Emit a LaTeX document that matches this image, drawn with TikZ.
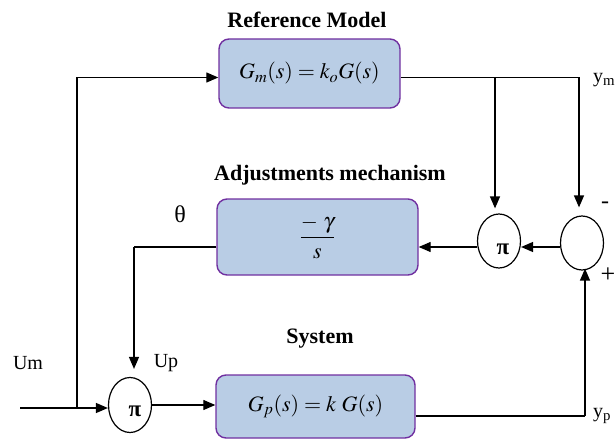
\documentclass[tikz,border=0pt]{standalone}
\usepackage{amsmath}
\usepackage{mathptmx}
\usepackage{fontspec}
\setmainfont{Liberation Serif}
\usetikzlibrary{arrows.meta,shapes.geometric}
\definecolor{boxfill}{HTML}{B9CDE5}
\definecolor{boxedge}{HTML}{7030A0}
\tikzset{
  blk/.style={draw=boxedge, fill=boxfill, rounded corners=10pt, line width=1.4pt, inner sep=0pt},
  circ/.style={draw, ellipse, line width=1.2pt, inner sep=0pt},
  wire/.style={line width=1.3pt},
  arr/.style={wire, -{Triangle[length=12pt,width=10pt]}},
  title/.style={font=\fontsize{22}{26}\selectfont\bfseries},
  lbl/.style={font=\fontsize{20}{24}\selectfont},
  pilbl/.style={font=\fontsize{23}{26}\selectfont\bfseries},
}
\begin{document}
\begin{tikzpicture}[x=1pt,y=-1pt]
\useasboundingbox (0,0) rectangle (615,441);
% blocks
\node[blk, minimum width=181pt, minimum height=69pt] (m) at (309.5,73.5)
  {\fontsize{22}{26}\selectfont $G_m(s)=k_oG(s)$};
\node[blk, minimum width=201pt, minimum height=76pt] (adj) at (317.5,237)
  {\fontsize{22}{26}\selectfont $\displaystyle\frac{-\ \gamma}{s}$};
\node[blk, minimum width=199pt, minimum height=63pt] (p) at (315.5,406.5)
  {\fontsize{22}{26}\selectfont $G_p(s)=k\ G(s)$};
% circles
\node[circ, minimum width=43pt, minimum height=54pt] (x1) at (499,241) {};
\node[circ, minimum width=43pt, minimum height=54pt] (sum) at (582,243) {};
\node[circ, minimum width=43pt, minimum height=55pt] (x0) at (130,405) {};
\node[pilbl] (pi1) at (503,249) {π};
\node[pilbl] (pi0) at (135,411) {π};
% titles and labels
\node[title] (t1) at (307,20) {Reference Model};
\node[title] (t2) at (330,175) {Adjustments mechanism};
\node[title] (t3) at (320,339) {System};
\node[font=\fontsize{24}{28}\selectfont] (th) at (180,214) {θ};
\node[lbl] (um) at (28,363) {Um};
\node[lbl] (up) at (166,363) {Up};
\node[lbl, anchor=west, inner sep=0pt] (ym) at (593,80) {y\textsubscript{m}};
\node[lbl, anchor=west, inner sep=0pt] (yp) at (593,416) {y\textsubscript{p}};
\node[font=\fontsize{24}{28}\selectfont] (minus) at (605,205) {-};
\node[font=\fontsize{26}{30}\selectfont] (plus) at (608,275) {+};
% coordinates
\coordinate (in) at (20,408);
\coordinate (b1) at (77,408);
\coordinate (cm) at (579,77.5);
\coordinate (b2) at (495,77.5);
\coordinate (ct) at (134,247);
\coordinate (cp) at (585,416);
% connectors
\draw[wire] (in) -- (b1);
\draw[arr] (b1) -- (x0.west |- b1);
\draw[arr] (b1) |- ([yshift=-4pt]m.west);
\draw[wire] ([yshift=-4pt]m.east) -- (cm);
\draw[arr, shorten >=8pt] (cm) -- (cm |- sum.north);
\draw[arr, shorten >=5pt] (b2) -- (b2 |- x1.north);
\draw[arr] ([yshift=-4pt]sum.west) -- ([yshift=-6pt]x1.east);
\draw[arr] ([yshift=-6pt]x1.west) -- ([yshift=-10pt]adj.east);
\draw[wire] ([yshift=-10pt]adj.west) -- (ct);
\draw[arr, shorten >=8pt] (ct) -- (ct |- x0.north);
\draw[arr] (x0.east) -- (x0.east -| p.west);
\draw[wire] ([yshift=-9.5pt]p.east) -- (cp);
\draw[arr, shorten >=-2pt] (cp) -- (cp |- sum.south);
\end{tikzpicture}
\end{document}
